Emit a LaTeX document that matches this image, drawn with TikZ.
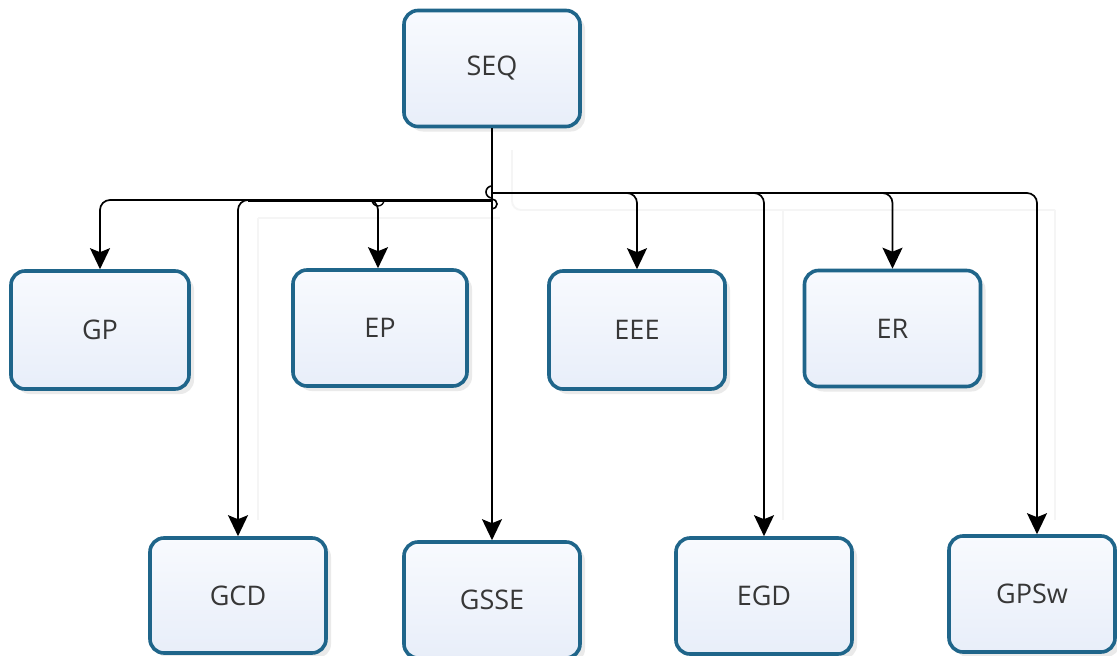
\documentclass[tikz,border=0pt]{standalone}
\usepackage{fontspec}
\setmainfont{Open Sans}
\usetikzlibrary{arrows.meta,shadows,calc}
\definecolor{boxline}{RGB}{31,101,138}
\definecolor{boxtop}{RGB}{248,250,254}
\definecolor{boxbot}{RGB}{232,238,249}
\definecolor{txt}{RGB}{55,55,55}
\tikzset{
  box/.style={draw=boxline, line width=3.6pt, rounded corners=14pt,
    top color=boxtop, bottom color=boxbot, inner sep=0pt,
    minimum width=176pt, minimum height=116pt, text=txt,
    font=\fontsize{27}{32}\selectfont,
    drop shadow={opacity=0.16, shadow xshift=5pt, shadow yshift=-5pt}},
  conn/.style={draw=black, line width=1.7pt, rounded corners=10pt,
    -{Stealth[length=21pt,width=20pt,inset=4pt]}},
  ghost/.style={draw=black!4, line width=1.8pt, rounded corners=9pt}
}
\begin{document}
\begin{tikzpicture}[x=1pt,y=-1pt]
\useasboundingbox[fill=white] (0,0) rectangle (1117,656);
% faint connector shadows
\draw[ghost] (512,150) -- (512,210) -- (1055,210);
\draw[ghost] (258,218) -- (500,218);
\draw[ghost] (783,210) -- (783,520);
\draw[ghost] (1055,210) -- (1055,520);
\draw[ghost] (258,218) -- (258,520);
% nodes
\node[box] (seq)  at (492,68.5) {SEQ};
\node[box, minimum width=178pt, minimum height=118pt] (gp) at (100,330) {GP};
\node[box, minimum width=174pt] (ep) at (380,328) {EP};
\node[box, minimum height=118pt] (eee) at (637,330) {EEE};
\node[box] (er)  at (892.5,328.5) {ER};
\node[box, minimum height=115pt] (gcd) at (238,595.5) {GCD};
\node[box] (gsse) at (492,600) {GSSE};
\node[box] (egd) at (764,596) {EGD};
\node[box, minimum width=166pt] (gpsw) at (1032,594) {GPSw};
% bus coordinates
\coordinate (busR) at (492,193);
\coordinate (busL) at (492,200);
% trunk
\draw[conn] (seq.south) -- (gsse.north);
% right branches
\draw[conn] (busR) -| (eee.north);
\draw[conn] (busR) -| (egd.north);
\draw[conn] (busR) -| (er.north);
\draw[conn] (busR) -| ([xshift=5pt]gpsw.north);
% left branches
\draw[line width=3pt] (busL) -- (248,200);
\draw[conn] (busL) -| (gcd.north);
\draw[conn] (busL) -| (gp.north);
\draw[conn] (372,200) -| ([xshift=-2pt]ep.north);
% line hops
\draw[line width=1.3pt] (372,200) arc[start angle=180, end angle=360, radius=6pt];
\draw[line width=1.6pt] (492,186) arc[start angle=90, end angle=270, radius=6pt];
\draw[line width=1.6pt] (492,199) arc[start angle=90, end angle=-90, radius=5pt];
\end{tikzpicture}
\end{document}
